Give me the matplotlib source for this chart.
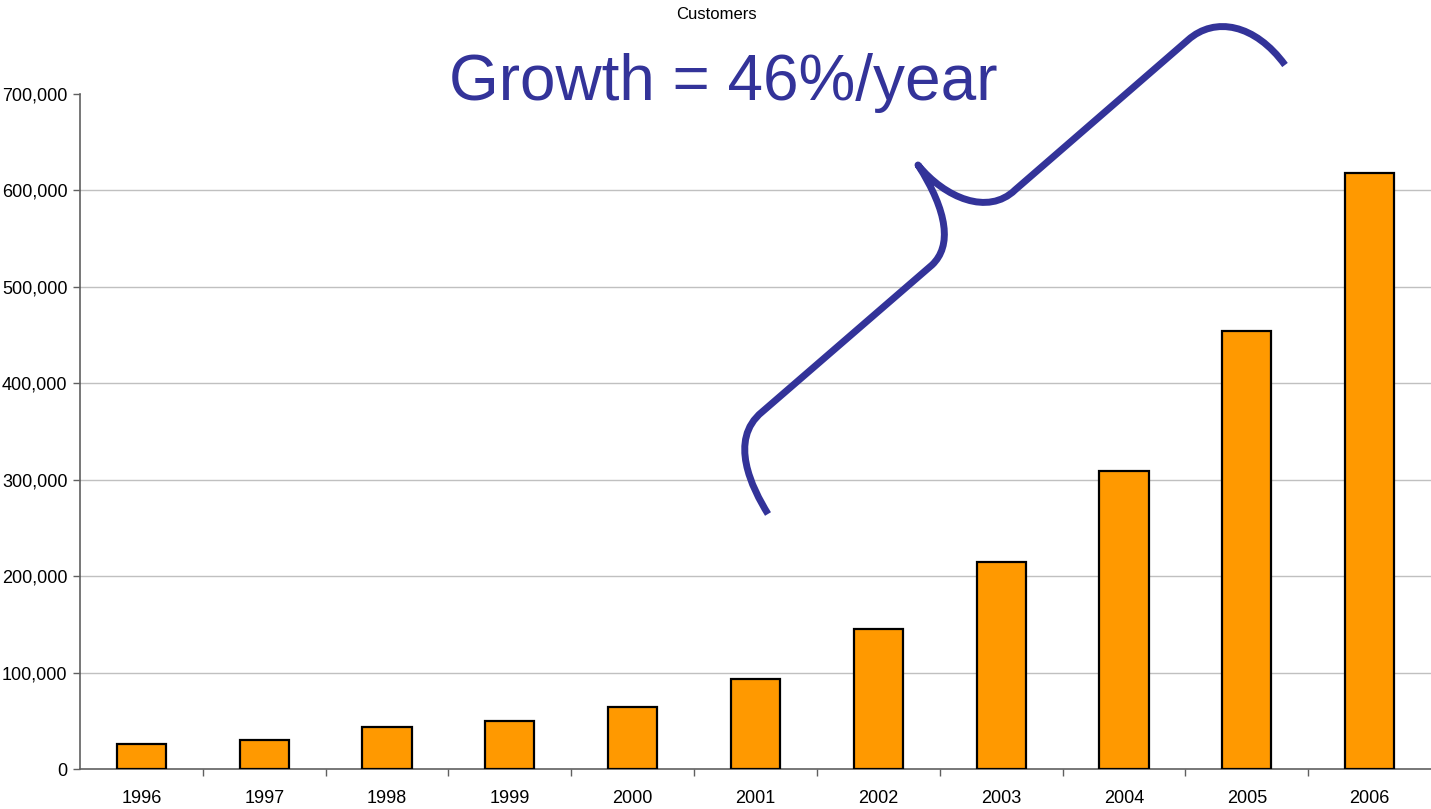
import numpy as np
import matplotlib
matplotlib.use("Agg")
import matplotlib.pyplot as plt
from matplotlib.path import Path
from matplotlib.patches import PathPatch
from matplotlib.ticker import FuncFormatter, FixedLocator

plt.rcParams['font.family'] = ['Liberation Sans Narrow', 'Liberation Sans', 'DejaVu Sans']

years = ['1996', '1997', '1998', '1999', '2000', '2001', '2002', '2003', '2004', '2005', '2006']
customers = [26000, 30500, 43500, 50000, 64500, 93000, 145000, 215000, 309000, 454000, 618000]
growth_label = 'Growth = 46%/year'

W, H = 1431, 809
fig = plt.figure(figsize=(W / 100, H / 100), dpi=100)
ax = fig.add_axes([80 / W, 40 / H, (W - 80) / W, 675 / H])

x = np.arange(len(years))
ax.bar(x, customers, width=0.4, color='#FF9900', edgecolor='black', linewidth=1.6, zorder=3)

ax.set_xlim(-0.5, len(years) - 0.5)
ax.set_ylim(0, 700000)
ax.set_yticks(np.arange(0, 700001, 100000))
ax.yaxis.set_major_formatter(FuncFormatter(lambda v, p: f'{int(v):,}'))

# gridlines for the inner ticks only (no line along the top)
for v in np.arange(100000, 700000, 100000):
    ax.axhline(v, color='#c0c0c0', linewidth=1, zorder=0)

# category labels centred, tick marks on the boundaries
ax.set_xticks(x)
ax.set_xticklabels(years)
ax.tick_params(axis='x', which='major', length=0, pad=15, labelsize=13)
ax.xaxis.set_minor_locator(FixedLocator(np.arange(0.5, len(years) - 1, 1)))
ax.tick_params(axis='x', which='minor', length=5, width=1, color='#606060', direction='out')
ax.tick_params(axis='y', length=5, width=1, color='#606060', pad=4, labelsize=13)

for s in ['top', 'right']:
    ax.spines[s].set_visible(False)
for s in ['left', 'bottom']:
    ax.spines[s].set_color('#606060')
    ax.spines[s].set_linewidth(1.2)

fig.text(716 / W, 1 - 19 / H, 'Customers', ha='center', va='baseline', fontsize=12)
fig.text(723 / W, 1 - 100 / H, growth_label, ha='center', va='baseline',
         fontsize=46, color='#333399', family=['Liberation Sans', 'DejaVu Sans'])

# hand-drawn brace spanning the growth years (figure pixels, y down)
brace = [
    (Path.MOVETO, (768, 514)),
    (Path.CURVE4, (752, 488)), (Path.CURVE4, (728, 440)), (Path.CURVE4, (762, 412)),
    (Path.LINETO, (932, 265)),
    (Path.CURVE4, (952, 246)), (Path.CURVE4, (948, 212)), (Path.CURVE4, (918, 165)),
    (Path.CURVE4, (945, 198)), (Path.CURVE4, (988, 216)), (Path.CURVE4, (1015, 190)),
    (Path.LINETO, (1188, 40)),
    (Path.CURVE4, (1215, 16)), (Path.CURVE4, (1255, 24)), (Path.CURVE4, (1285, 65)),
]
codes = [c for c, _ in brace]
verts = [(px / W, 1 - py / H) for _, (px, py) in brace]
fig.patches.append(PathPatch(Path(verts, codes), transform=fig.transFigure,
                             fill=False, edgecolor='#333399', linewidth=5,
                             capstyle='butt', joinstyle='round'))

fig.savefig('out.png', dpi=100)
